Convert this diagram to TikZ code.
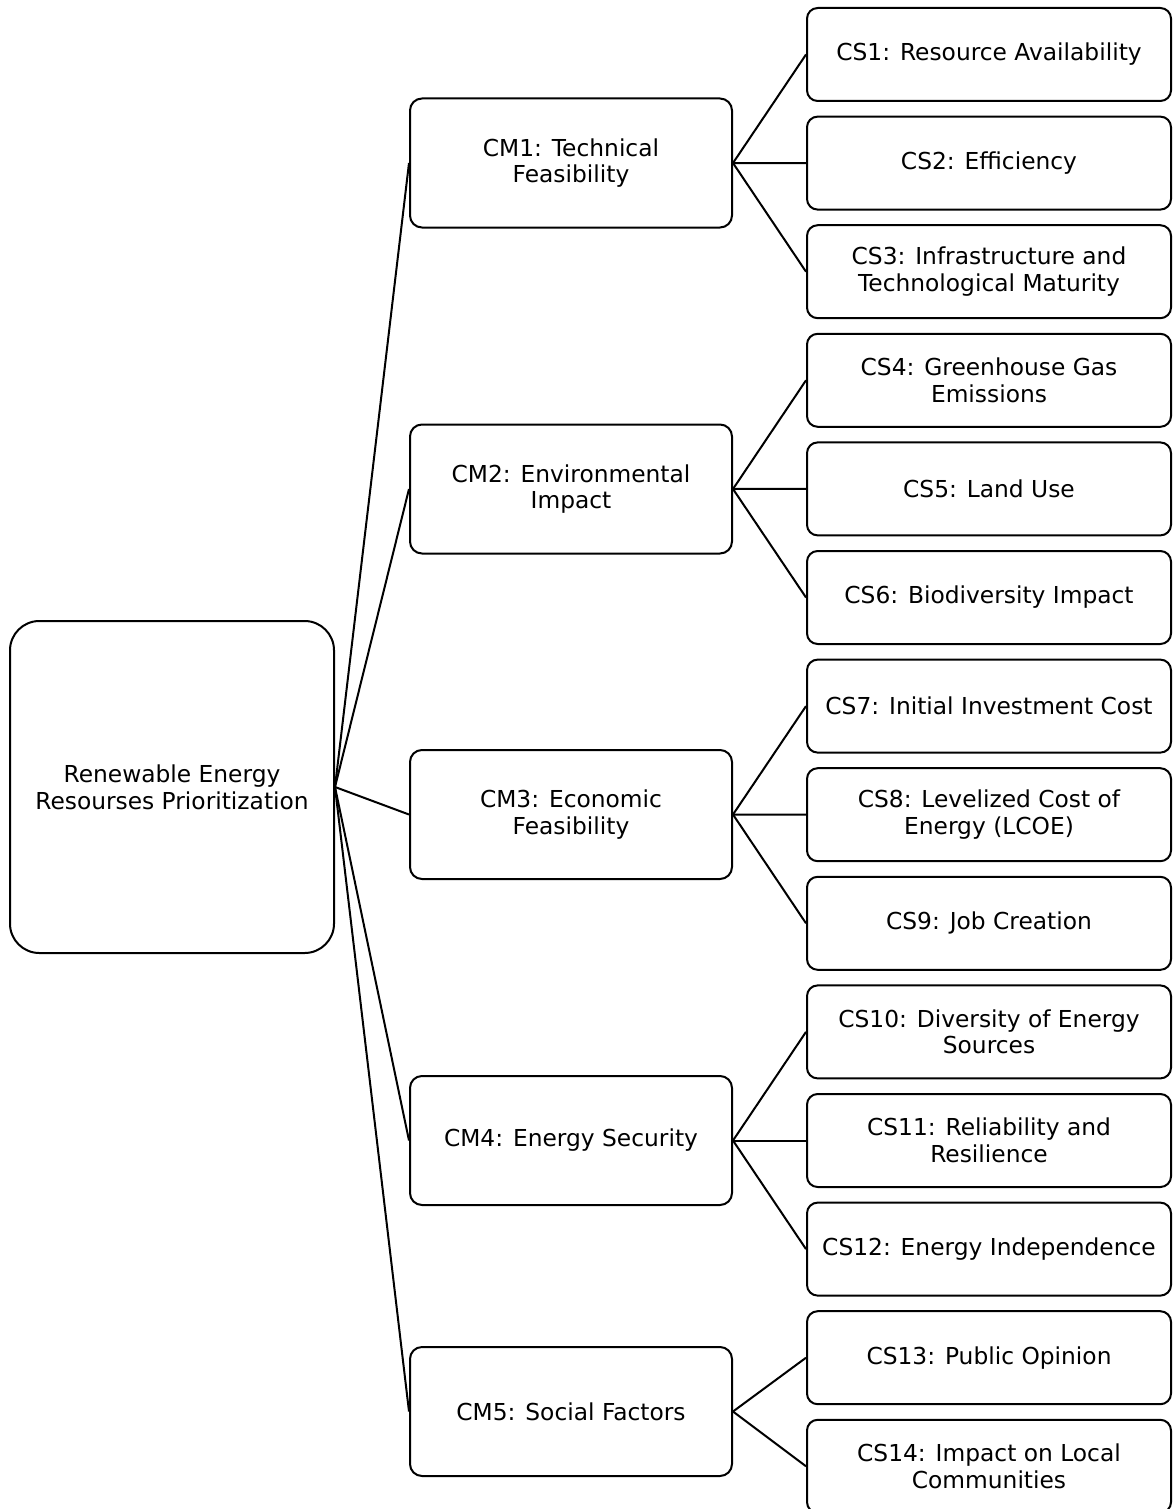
\documentclass[tikz,border=0pt]{standalone}
\usepackage{fontspec}
\setmainfont{DejaVu Sans}
\begin{document}
\begin{tikzpicture}[x=0.75pt,y=-0.75pt,
  box/.style={draw=black, line width=1.5pt, fill=white, align=center, inner sep=0pt,
    font=\fontsize{17.5pt}{20pt}\selectfont},
  rootbox/.style={box, rounded corners=22pt, minimum width=243pt, minimum height=249pt},
  cmbox/.style={box, rounded corners=9pt, minimum width=241.5pt, minimum height=96.75pt},
  csbox/.style={box, rounded corners=8pt, minimum width=273pt, minimum height=69.75pt},
  link/.style={draw=black, line width=1.5pt}]
\useasboundingbox (0,0) rectangle (1172,1509);

\node[rootbox] (root) at (172,787) {Renewable Energy\\Resourses Prioritization};

\node[cmbox] (cm1) at (571,163) {CM1: Technical\\Feasibility};
\node[cmbox] (cm2) at (571,489) {CM2: Environmental\\Impact};
\node[cmbox] (cm3) at (571,814.5) {CM3: Economic\\Feasibility};
\node[cmbox] (cm4) at (571,1140.5) {CM4: Energy Security};
\node[cmbox] (cm5) at (571,1411.5) {CM5: Social Factors};

\node[csbox] (cs1) at (989,54.5) {CS1: Resource Availability};
\node[csbox] (cs2) at (989,163.1) {CS2: Efficiency};
\node[csbox] (cs3) at (989,271.7) {CS3: Infrastructure and\\Technological Maturity};
\node[csbox] (cs4) at (989,380.3) {CS4: Greenhouse Gas\\Emissions};
\node[csbox] (cs5) at (989,488.9) {CS5: Land Use};
\node[csbox] (cs6) at (989,597.5) {CS6: Biodiversity Impact};
\node[csbox] (cs7) at (989,706.1) {CS7: Initial Investment Cost};
\node[csbox] (cs8) at (989,814.7) {CS8: Levelized Cost of\\Energy (LCOE)};
\node[csbox] (cs9) at (989,923.3) {CS9: Job Creation};
\node[csbox] (cs10) at (989,1031.9) {CS10: Diversity of Energy\\Sources};
\node[csbox] (cs11) at (989,1140.5) {CS11: Reliability and\\Resilience};
\node[csbox] (cs12) at (989,1249.1) {CS12: Energy Independence};
\node[csbox] (cs13) at (989,1357.7) {CS13: Public Opinion};
\node[csbox] (cs14) at (989,1466.3) {CS14: Impact on Local\\Communities};

\foreach \c in {cm1,cm2,cm3,cm4,cm5}
  \draw[link] (root.east) -- (\c.west);
\foreach \s in {cs1,cs2,cs3} \draw[link] (cm1.east) -- (\s.west);
\foreach \s in {cs4,cs5,cs6} \draw[link] (cm2.east) -- (\s.west);
\foreach \s in {cs7,cs8,cs9} \draw[link] (cm3.east) -- (\s.west);
\foreach \s in {cs10,cs11,cs12} \draw[link] (cm4.east) -- (\s.west);
\foreach \s in {cs13,cs14} \draw[link] (cm5.east) -- (\s.west);
\end{tikzpicture}
\end{document}
